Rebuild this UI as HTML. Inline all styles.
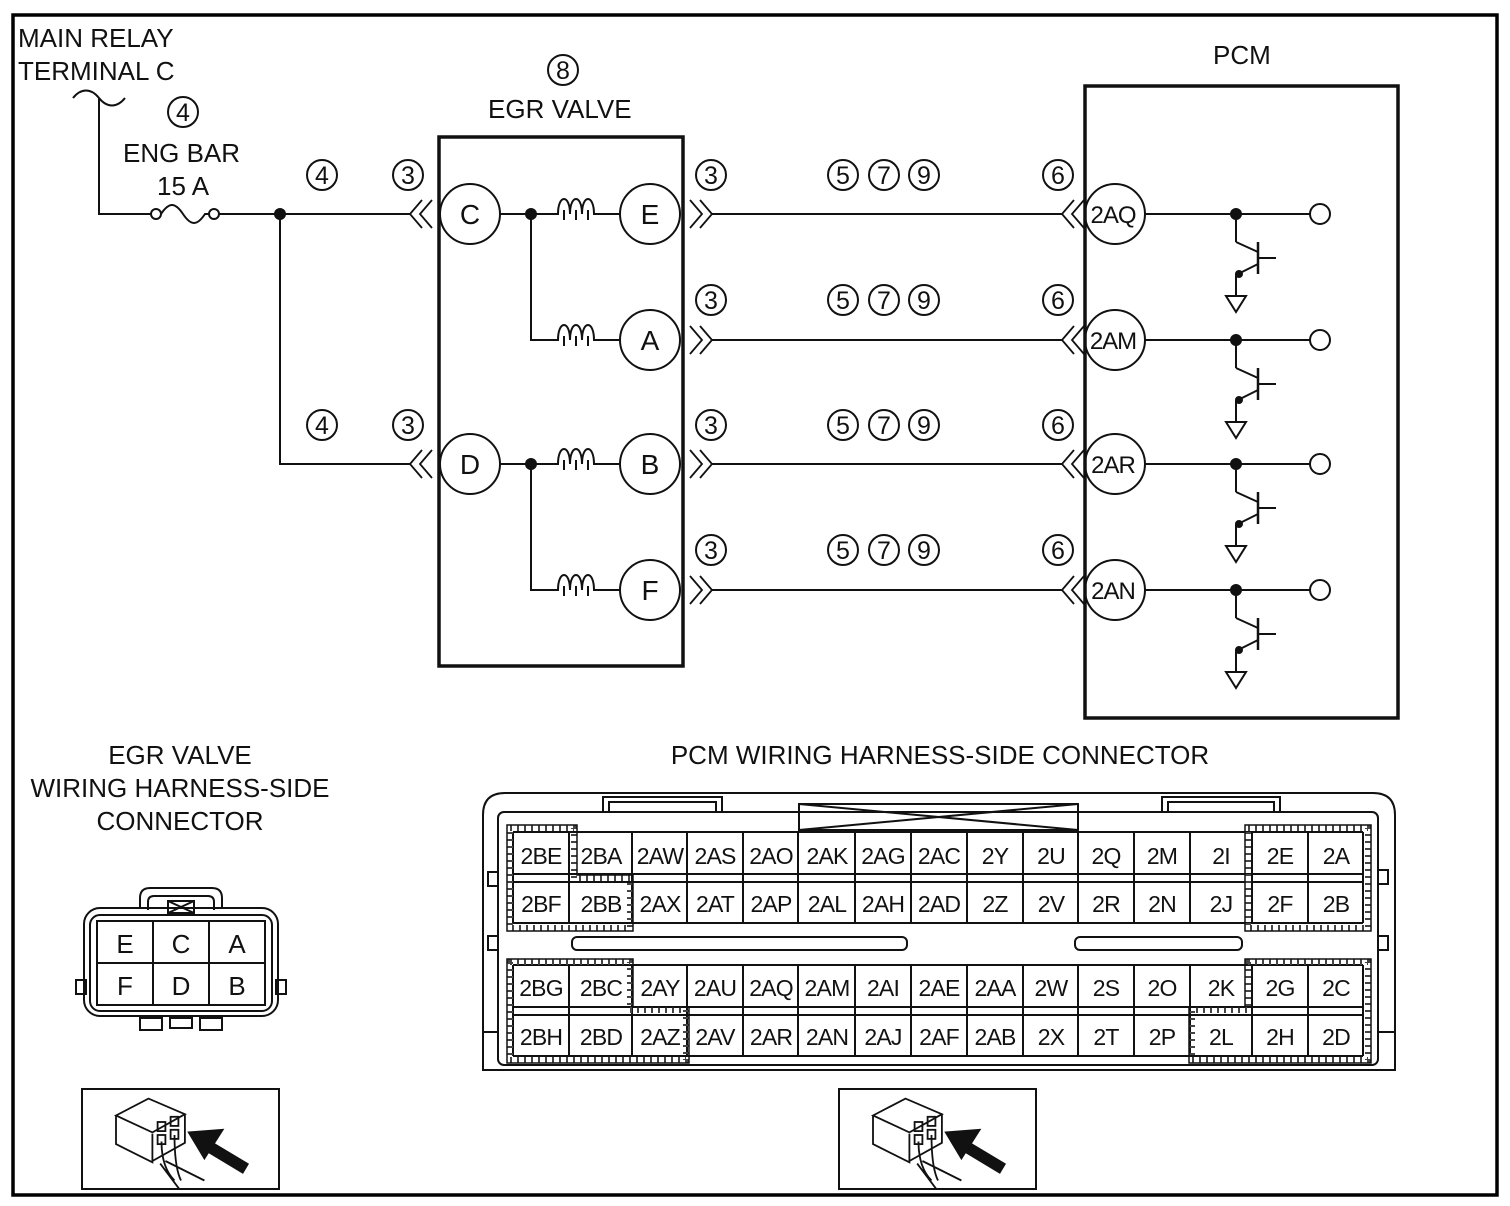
<!DOCTYPE html>
<html><head><meta charset="utf-8"><style>
html,body{margin:0;padding:0;background:#fff}
svg{display:block}
text{font-family:"Liberation Sans",sans-serif;fill:#111}
</style></head><body>
<svg width="1510" height="1206" viewBox="0 0 1510 1206" xmlns="http://www.w3.org/2000/svg">
<defs>
<g id="tr" fill="none" stroke="#111" stroke-width="2">
 <line x1="0" y1="0" x2="0" y2="28"/><line x1="0" y1="28" x2="22" y2="38"/>
 <line x1="22" y1="28" x2="22" y2="60" stroke-width="2.5"/><line x1="22" y1="44" x2="40" y2="44"/>
 <line x1="22" y1="50" x2="2" y2="60"/><circle cx="3" cy="60" r="3" fill="#111"/>
 <line x1="0" y1="60" x2="0" y2="82"/><polygon points="-10,82 10,82 0,98"/>
</g>
<g id="cl" fill="none" stroke="#111" stroke-width="2">
 <path d="M0,0 h3 c0,-20 12,-20 12,0 c0,-20 12,-20 12,0 c0,-20 12,-20 12,0 h6"/>
 <path d="M9,-4 v10 M21,-4 v10 M33,-4 v10"/>
</g>
<g id="lc" fill="none" stroke="#111" stroke-width="1.8"><path d="M14,-14 L2,0 L14,14 M24,-14 L12,0 L24,14"/></g>
<g id="rc" fill="none" stroke="#111" stroke-width="1.8"><path d="M0,-14 L12,0 L0,14 M10,-14 L22,0 L10,14"/></g>
<g id="pic" fill="none" stroke="#111" stroke-width="1.4">
 <path d="M-40,-15 l25,-13 l28,12 l-25,14 z M-40,-15 v22 l28,14 v-22 M13,-16 v22 l-25,14"/>
 <rect x="-8" y="-10" width="6" height="7"/><rect x="2" y="-14" width="6" height="7"/>
 <rect x="-8" y="0" width="6" height="7"/><rect x="2" y="-4" width="6" height="7"/>
 <path d="M-5,5 q0,20 10,30 M5,0 q0,25 5,35 M-2,20 l30,15 M-6,22 l15,20"/>
 <line x1="30" y1="8" x2="60" y2="26" stroke-width="9"/>
 <polygon points="16,-2 42,-4 28,18" fill="#111"/>
</g>
</defs>
<rect x="13" y="15" width="1484" height="1180" fill="none" stroke="#000" stroke-width="3.5"/>

<g font-size="26">
<text x="18" y="47">MAIN RELAY</text><text x="18" y="80">TERMINAL C</text>
<text x="123" y="162">ENG BAR</text><text x="157" y="195">15 A</text>
<text x="488" y="118">EGR VALVE</text><text x="1213" y="64">PCM</text>
</g>
<g fill="none" stroke="#111" stroke-width="2">
<circle cx="183" cy="112" r="15"/><circle cx="322" cy="175" r="15"/><circle cx="408" cy="175" r="15"/>
<circle cx="322" cy="425" r="15"/><circle cx="408" cy="425" r="15"/><circle cx="563" cy="70" r="15"/>
</g>
<g font-size="25" text-anchor="middle">
<text x="183" y="121">4</text><text x="322" y="184">4</text><text x="408" y="184">3</text>
<text x="322" y="434">4</text><text x="408" y="434">3</text><text x="563" y="79">8</text>
</g>
<g fill="none" stroke="#111" stroke-width="2">
<path d="M73,98 c8,-10 18,-10 26,0 c8,10 18,10 26,0"/>
<path d="M99,98 V214 H151 M219,214 H410"/>
<circle cx="156" cy="214" r="5"/><circle cx="214" cy="214" r="5"/>
<path d="M161,214 c8,-12 14,-12 22,0 c8,12 14,12 22,0 h4"/>
<path d="M280,214 V464 H410"/>
<rect x="439" y="137" width="244" height="529" stroke-width="3.5"/>
<rect x="1085" y="86" width="313" height="632" stroke-width="3.5"/>
<circle cx="470" cy="214" r="30"/><circle cx="470" cy="464" r="30"/>
<circle cx="650" cy="214" r="30"/><circle cx="650" cy="340" r="30"/><circle cx="650" cy="464" r="30"/><circle cx="650" cy="590" r="30"/>
<circle cx="1115" cy="214" r="30"/><circle cx="1115" cy="340" r="30"/><circle cx="1115" cy="464" r="30"/><circle cx="1115" cy="590" r="30"/>
<path d="M500,214 H555 M500,464 H555 M531,214 V340 H555 M531,464 V590 H555"/>
<path d="M600,214 H620 M600,340 H620 M600,464 H620 M600,590 H620"/>
<path d="M712,214 H1062 M712,340 H1062 M712,464 H1062 M712,590 H1062"/>
<path d="M1145,214 H1310 M1145,340 H1310 M1145,464 H1310 M1145,590 H1310"/>
<circle cx="1320" cy="214" r="10"/><circle cx="1320" cy="340" r="10"/><circle cx="1320" cy="464" r="10"/><circle cx="1320" cy="590" r="10"/>
</g>
<g fill="#111"><circle cx="280" cy="214" r="6"/><circle cx="531" cy="214" r="6"/><circle cx="531" cy="464" r="6"/>
<circle cx="1236" cy="214" r="6"/><circle cx="1236" cy="340" r="6"/><circle cx="1236" cy="464" r="6"/><circle cx="1236" cy="590" r="6"/></g>
<use href="#cl" x="555" y="214"/><use href="#cl" x="555" y="340"/><use href="#cl" x="555" y="464"/><use href="#cl" x="555" y="590"/>
<use href="#lc" x="408" y="214"/><use href="#lc" x="408" y="464"/>
<use href="#lc" x="1060" y="214"/><use href="#lc" x="1060" y="340"/><use href="#lc" x="1060" y="464"/><use href="#lc" x="1060" y="590"/>
<use href="#rc" x="690" y="214"/><use href="#rc" x="690" y="340"/><use href="#rc" x="690" y="464"/><use href="#rc" x="690" y="590"/>
<use href="#tr" x="1236" y="214"/><use href="#tr" x="1236" y="340"/><use href="#tr" x="1236" y="464"/><use href="#tr" x="1236" y="590"/>
<g font-size="28" text-anchor="middle">
<text x="470" y="224">C</text><text x="470" y="474">D</text>
<text x="650" y="224">E</text><text x="650" y="350">A</text><text x="650" y="474">B</text><text x="650" y="600">F</text>
</g>
<g font-size="24" text-anchor="middle" letter-spacing="-1">
<text x="1113" y="223">2AQ</text><text x="1113" y="349">2AM</text><text x="1113" y="473">2AR</text><text x="1113" y="599">2AN</text>
</g>
<g fill="none" stroke="#111" stroke-width="2">
<circle cx="711" cy="175" r="15"/><circle cx="711" cy="300" r="15"/><circle cx="711" cy="425" r="15"/><circle cx="711" cy="550" r="15"/>
<circle cx="1058" cy="175" r="15"/><circle cx="1058" cy="300" r="15"/><circle cx="1058" cy="425" r="15"/><circle cx="1058" cy="550" r="15"/>
<g id="n3"><circle cx="843" cy="175" r="15"/><circle cx="884" cy="175" r="15"/><circle cx="924" cy="175" r="15"/></g>
<use href="#n3" y="125"/><use href="#n3" y="250"/><use href="#n3" y="375"/>
</g>
<g font-size="25" text-anchor="middle">
<g id="t3"><text x="711" y="184">3</text><text x="1058" y="184">6</text><text x="843" y="184">5</text><text x="884" y="184">7</text><text x="924" y="184">9</text></g>
<use href="#t3" y="125"/><use href="#t3" y="250"/><use href="#t3" y="375"/>
</g>

<g font-size="26" text-anchor="middle">
<text x="180" y="764">EGR VALVE</text><text x="180" y="797">WIRING HARNESS-SIDE</text><text x="180" y="830">CONNECTOR</text>
<text x="940" y="764">PCM WIRING HARNESS-SIDE CONNECTOR</text>
</g>
<g fill="none" stroke="#111" stroke-width="2">
<path d="M140,908 v-10 q0,-10 10,-10 h62 q10,0 10,10 v10"/>
<path d="M148,910 v-8 q0,-6 6,-6 h54 q6,0 6,6 v8"/>
<rect x="84" y="908" width="194" height="108" rx="16"/>
<rect x="90" y="915" width="182" height="96" rx="10"/>
<rect x="76" y="980" width="10" height="14"/><rect x="276" y="980" width="10" height="14"/>
<rect x="97" y="921" width="168" height="84"/>
<path d="M97,963 H265 M153,921 V1005 M209,921 V1005"/>
<rect x="168" y="901" width="26" height="12"/><path d="M168,901 L194,913 M194,901 L168,913"/>
<rect x="140" y="1018" width="22" height="12"/><rect x="170" y="1018" width="22" height="10"/><rect x="200" y="1018" width="22" height="12"/>
</g>
<g font-size="26" text-anchor="middle"><text x="125" y="953">E</text><text x="181" y="953">C</text><text x="237" y="953">A</text>
<text x="125" y="995">F</text><text x="181" y="995">D</text><text x="237" y="995">B</text></g>

<g fill="none" stroke="#111" stroke-width="2">
<path d="M483,1070 V815 q0,-22 22,-22 H1373 q22,0 22,22 V1070 Z"/>
<rect x="498" y="812" width="880" height="253" rx="6"/>
<path d="M603,812 V797 H722 V812 M609,812 V802 H716 V812"/>
<path d="M1162,812 V797 H1280 V812 M1168,812 V802 H1274 V812"/>
<rect x="799" y="804" width="279" height="26"/><path d="M799,804 L1078,830 M1078,804 L799,830"/>
<rect x="572" y="937" width="335" height="13" rx="5"/><rect x="1075" y="937" width="167" height="13" rx="5"/>
<rect x="488" y="872" width="10" height="14"/><rect x="488" y="936" width="10" height="14"/>
<rect x="1378" y="870" width="10" height="14"/><rect x="1378" y="936" width="10" height="14"/>
<path d="M1395,1032 H1378"/><path d="M483,1032 H498"/>
<path d="M513,832 H1363 M513,874 H1363 M513,882 H1363 M513,923 H1363 M513,965 H1363 M513,1007 H1363 M513,1015 H1363 M513,1056 H1363"/>
<path d="M513,832 V923 M569,832 V923 M632,832 V923 M687,832 V923 M743,832 V923 M798,832 V923 M855,832 V923 M911,832 V923 M967,832 V923 M1023,832 V923 M1078,832 V923 M1134,832 V923 M1190,832 V923 M1252,832 V923 M1308,832 V923 M1363,832 V923"/>
<path d="M513,965 V1056 M569,965 V1056 M632,965 V1056 M687,965 V1056 M743,965 V1056 M798,965 V1056 M855,965 V1056 M911,965 V1056 M967,965 V1056 M1023,965 V1056 M1078,965 V1056 M1134,965 V1056 M1190,965 V1056 M1252,965 V1056 M1308,965 V1056 M1363,965 V1056"/>
</g>
<g fill="none" stroke="#444" stroke-width="6" stroke-dasharray="2,5">
<path d="M510,828 H574 V878 H630 V928 H510 Z"/>
<path d="M510,962 H630 V1010 H686 V1060 H510 Z"/>
<path d="M1248,828 H1368 V928 H1248 Z"/>
<path d="M1248,962 H1368 V1060 H1192 V1010 H1248 Z"/>
</g>
<g fill="none" stroke="#111" stroke-width="1.5">
<path d="M507,825 H577 V875 H633 V931 H507 Z"/>
<path d="M507,959 H633 V1007 H689 V1063 H507 Z"/>
<path d="M1245,825 H1371 V931 H1245 Z"/>
<path d="M1245,959 H1371 V1063 H1189 V1007 H1245 Z"/>
</g>
<g font-size="23" text-anchor="middle" letter-spacing="-0.8">
<text y="864"><tspan x="541">2BE</tspan><tspan x="601">2BA</tspan><tspan x="660">2AW</tspan><tspan x="715">2AS</tspan><tspan x="771">2AO</tspan><tspan x="827">2AK</tspan><tspan x="883">2AG</tspan><tspan x="939">2AC</tspan><tspan x="995">2Y</tspan><tspan x="1051">2U</tspan><tspan x="1106">2Q</tspan><tspan x="1162">2M</tspan><tspan x="1221">2I</tspan><tspan x="1280">2E</tspan><tspan x="1336">2A</tspan></text>
<text y="912"><tspan x="541">2BF</tspan><tspan x="601">2BB</tspan><tspan x="660">2AX</tspan><tspan x="715">2AT</tspan><tspan x="771">2AP</tspan><tspan x="827">2AL</tspan><tspan x="883">2AH</tspan><tspan x="939">2AD</tspan><tspan x="995">2Z</tspan><tspan x="1051">2V</tspan><tspan x="1106">2R</tspan><tspan x="1162">2N</tspan><tspan x="1221">2J</tspan><tspan x="1280">2F</tspan><tspan x="1336">2B</tspan></text>
<text y="996"><tspan x="541">2BG</tspan><tspan x="601">2BC</tspan><tspan x="660">2AY</tspan><tspan x="715">2AU</tspan><tspan x="771">2AQ</tspan><tspan x="827">2AM</tspan><tspan x="883">2AI</tspan><tspan x="939">2AE</tspan><tspan x="995">2AA</tspan><tspan x="1051">2W</tspan><tspan x="1106">2S</tspan><tspan x="1162">2O</tspan><tspan x="1221">2K</tspan><tspan x="1280">2G</tspan><tspan x="1336">2C</tspan></text>
<text y="1045"><tspan x="541">2BH</tspan><tspan x="601">2BD</tspan><tspan x="660">2AZ</tspan><tspan x="715">2AV</tspan><tspan x="771">2AR</tspan><tspan x="827">2AN</tspan><tspan x="883">2AJ</tspan><tspan x="939">2AF</tspan><tspan x="995">2AB</tspan><tspan x="1051">2X</tspan><tspan x="1106">2T</tspan><tspan x="1162">2P</tspan><tspan x="1221">2L</tspan><tspan x="1280">2H</tspan><tspan x="1336">2D</tspan></text>
</g>

<rect x="82" y="1089" width="197" height="100" fill="none" stroke="#111" stroke-width="2"/>
<rect x="839" y="1089" width="197" height="100" fill="none" stroke="#111" stroke-width="2"/>
<g transform="translate(168,1135) scale(1.3)"><use href="#pic"/></g>
<g transform="translate(925,1135) scale(1.3)"><use href="#pic"/></g>
</svg>
</body></html>
